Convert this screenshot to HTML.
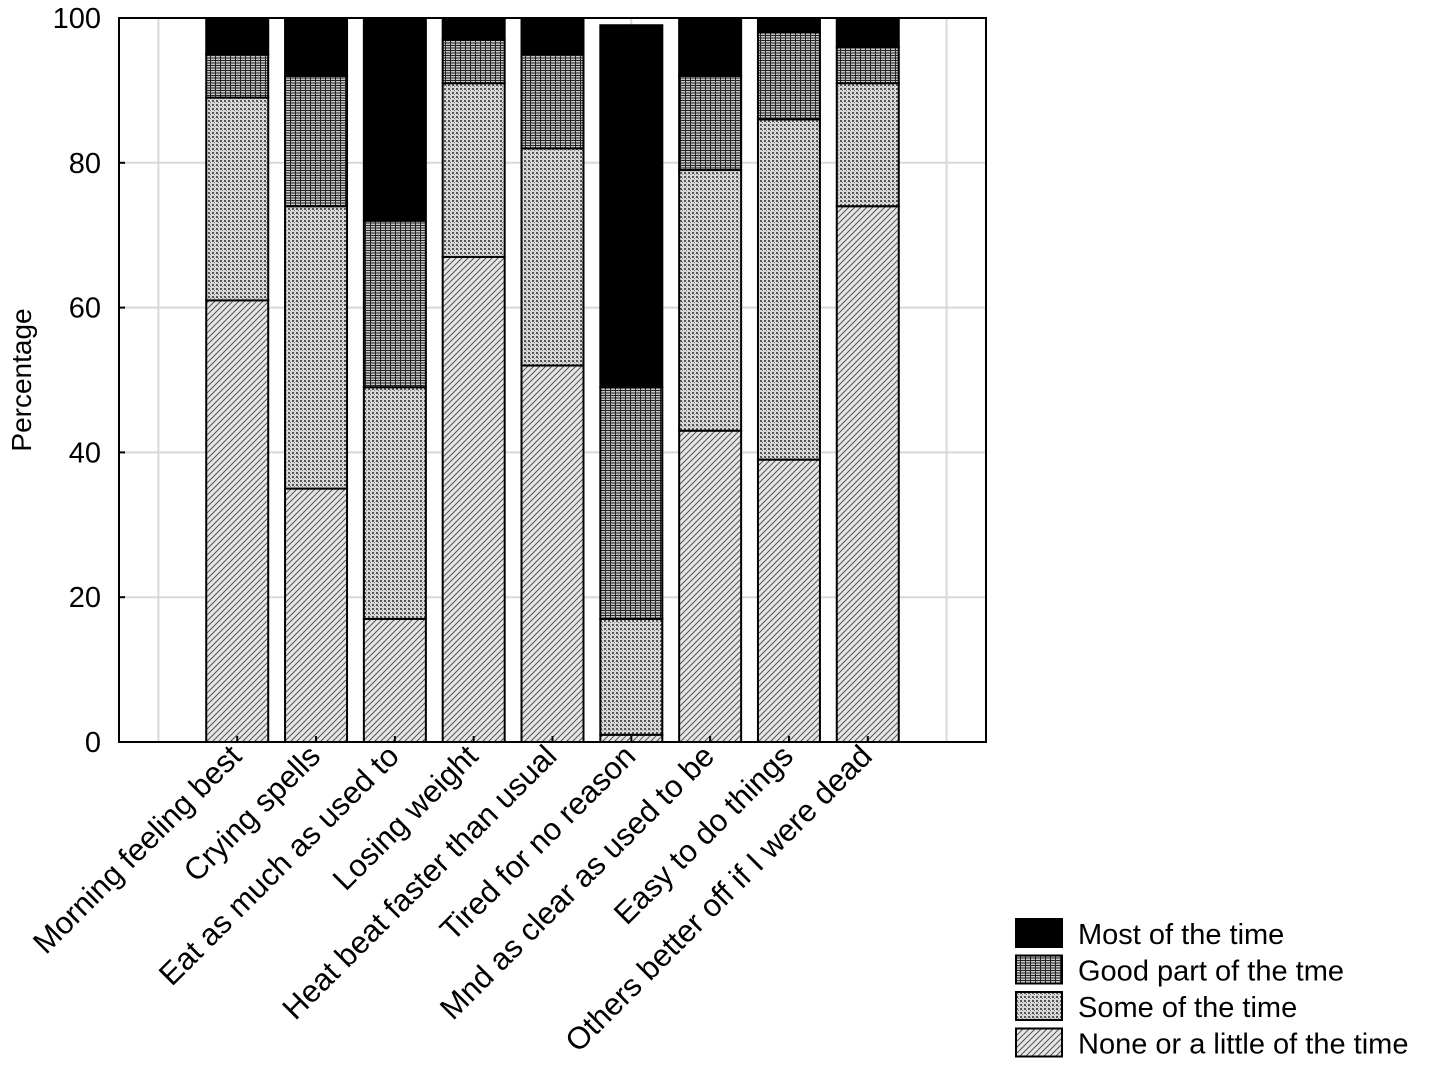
<!DOCTYPE html>
<html><head><meta charset="utf-8"><style>body{margin:0;background:#fff}svg{display:block}text{font-family:"Liberation Sans",Arial,sans-serif;fill:#000}</style></head>
<body>
<svg id="chart" width="1429" height="1066">
<defs>
<pattern id="pNone" width="6" height="6" patternUnits="userSpaceOnUse"><rect width="6" height="6" fill="#e6e6e6"/><path d="M-1,7 L7,-1 M-1,1 L1,-1 M5,7 L7,5" stroke="#555" stroke-width="1"/></pattern>
<pattern id="pSome" width="4" height="4" patternUnits="userSpaceOnUse"><rect width="4" height="4" fill="#d8d8d8"/><rect x="0" y="0" width="2" height="2" fill="#555"/><rect x="2" y="2" width="1" height="1" fill="#777"/></pattern>
<pattern id="pGood" width="5" height="5" patternUnits="userSpaceOnUse"><rect width="5" height="5" fill="#c8c8c8"/><path d="M0,0.5 H5 M0.5,0 V5 M0,3 H5" stroke="#222" stroke-width="1"/></pattern>
</defs>
<g id="grid"></g>
<g id="bars"></g>
<g id="axes"></g>
<g id="legend"></g>
</svg>
<script>
const categories=["Morning feeling best","Crying spells","Eat as much as used to","Losing weight","Heat beat faster than usual","Tired for no reason","Mnd as clear as used to be","Easy to do things","Others better off if I were dead"];
const noneVals=[61,35,17,67,52,1,43,39,74];
const someVals=[28,39,32,24,30,16,36,47,17];
const goodVals=[6,18,23,6,13,32,13,12,5];
const mostVals=[5,8,28,3,5,50,8,2,4];
const yTicks=[0,20,40,60,80,100];
const seriesNames=["Most of the time","Good part of the tme","Some of the time","None or a little of the time"];
const NS="http://www.w3.org/2000/svg";
const L=119,R=986,T=18,B=742;
const nSlots=categories.length+2, slot=(R-L)/nSlots;
const xc=i=>L+slot*(i+1.5);
const y=v=>B-(B-T)*v/100;
function mk(p,tag,a){const e=document.createElementNS(NS,tag);for(const k in a)e.setAttribute(k,a[k]);p.appendChild(e);return e;}
const grid=document.getElementById('grid'),bars=document.getElementById('bars'),axes=document.getElementById('axes'),leg=document.getElementById('legend');
yTicks.forEach(t=>{if(t>0&&t<100){const g=mk(grid,'line',{x1:L,x2:R,y1:y(t),y2:y(t),stroke:'#d8d8d8','stroke-width':2});

}});
for(let s=0;s<nSlots;s++){const g=mk(grid,'line',{x1:L+slot*(s+0.5),x2:L+slot*(s+0.5),y1:T,y2:B,stroke:'#d8d8d8','stroke-width':2});

}
const series=[[noneVals,'url(#pNone)','none'],[someVals,'url(#pSome)','some'],[goodVals,'url(#pGood)','good'],[mostVals,'#000','most']];
const bw=62;
categories.forEach((c,i)=>{let base=0;series.forEach(([vals,fill,nm])=>{const v=vals[i];
const r=mk(bars,'rect',{x:xc(i)-bw/2,y:y(base+v),width:bw,height:y(base)-y(base+v),fill:fill,stroke:'#000','stroke-width':2});


base+=v;});
const tk=mk(axes,'line',{x1:xc(i),x2:xc(i),y1:B,y2:B-6,stroke:'#000','stroke-width':2});


const ax=xc(i)+6, ay=758;
const tx=mk(axes,'text',{x:ax,y:ay,'font-size':31,'text-anchor':'end',transform:`rotate(-45 ${ax} ${ay})`});
tx.textContent=c;

});
const fr=mk(axes,'rect',{x:L,y:T,width:R-L,height:B-T,fill:'none',stroke:'#000','stroke-width':2});


yTicks.forEach(t=>{const tl=mk(axes,'line',{x1:L,x2:L+6,y1:y(t),y2:y(t),stroke:'#000','stroke-width':2});


const tx=mk(axes,'text',{x:101,y:y(t)+10,'font-size':29,'text-anchor':'end'});tx.textContent=t;

});
const yt=mk(axes,'text',{x:31,y:380,'font-size':28,'text-anchor':'middle',transform:'rotate(-90 31 380)'});yt.textContent='Percentage';


const lfills=['#000','url(#pGood)','url(#pSome)','url(#pNone)'];
seriesNames.forEach((n,k)=>{const yy=919+k*36.5;
const b=mk(leg,'rect',{x:1016,y:yy,width:46,height:28,fill:lfills[k],stroke:'#000','stroke-width':2});


const t=mk(leg,'text',{x:1078,y:yy+25,'font-size':29});t.textContent=n;

});
</script>
</body></html>
